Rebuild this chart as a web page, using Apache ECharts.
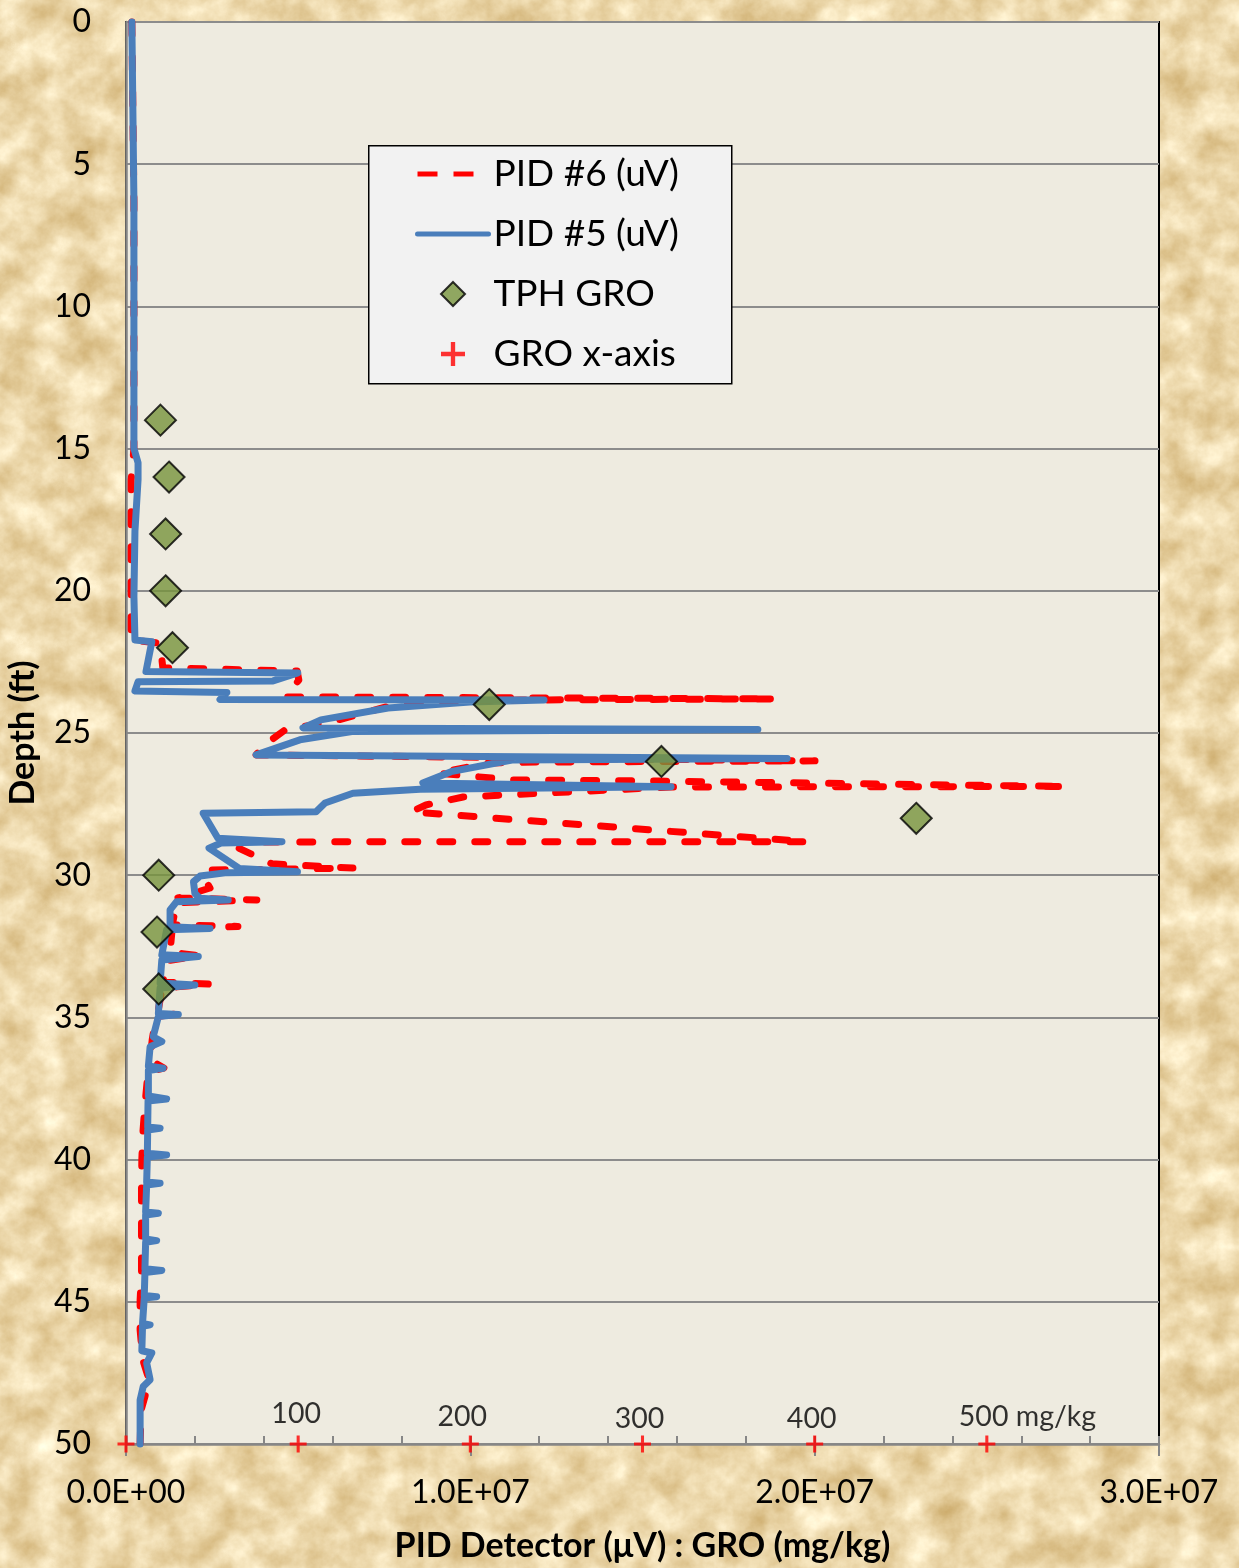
<!DOCTYPE html>
<html>
<head>
<meta charset="utf-8">
<title>PID and GRO profile with depth</title>
<script src="https://cdn.jsdelivr.net/npm/echarts@6/dist/echarts.min.js"></script>
<style>
  html, body { margin: 0; padding: 0; }
  body {
    width: 1239px; height: 1568px; overflow: hidden;
    background-color: #EBD6AA;
    background-image: url("data:image/svg+xml;utf8,<svg xmlns='http://www.w3.org/2000/svg' width='1239' height='1568'><filter id='p' color-interpolation-filters='sRGB'><feTurbulence type='fractalNoise' baseFrequency='0.03' numOctaves='5' seed='11'/><feColorMatrix type='matrix' values='0.25 0 0 0 0.80  0.35 0 0 0 0.67  0.5 0 0 0 0.42  0 0 0 0 1'/></filter><rect width='1239' height='1568' filter='url(%23p)'/></svg>");
  }
  #chart { width: 1239px; height: 1568px; }
</style>
</head>
<body>
<div id="chart"></div>
<script>
// PID #6 detector trace: [signal (uV), depth (ft)], in logging order
const pid6 = [
  [0.17e6, 0], [0.23e6, 6.3], [0.23e6, 15.0], [0.15e6, 16.1], [0.15e6, 21.73], [0.99e6, 21.84],
  [1.07e6, 22.71], [4.97e6, 22.82], [5.02e6, 23.14], [4.76e6, 23.52], [4.62e6, 23.73],
  [18.82e6, 23.8], [11.44e6, 23.84], [7.96e6, 23.95], [6.04e6, 24.58], [4.62e6, 24.89],
  [3.98e6, 25.46], [3.78e6, 25.77], [20.01e6, 25.98], [12.02e6, 26.02], [10.48e6, 26.06],
  [9.06e6, 26.41], [11.21e6, 26.65], [15.48e6, 26.69], [27.3e6, 26.88], [15.83e6, 26.9],
  [9.79e6, 27.25], [8.71e6, 27.53], [8.28e6, 27.77], [19.76e6, 28.82], [2.85e6, 28.83],
  [3.19e6, 29.0], [4.24e6, 29.6], [6.59e6, 29.75], [2.44e6, 29.82], [2.24e6, 30.06],
  [2.44e6, 30.45], [1.51e6, 30.8], [3.80e6, 30.87], [1.48e6, 30.97], [1.34e6, 31.75],
  [3.25e6, 31.8], [1.34e6, 31.89], [1.28e6, 32.7], [2.15e6, 32.84], [1.22e6, 33.0],
  [1.07e6, 33.76], [2.44e6, 33.83], [1.05e6, 33.97], [0.93e6, 34.8], [1.42e6, 34.88],
  [0.87e6, 34.98], [0.76e6, 35.8], [0.70e6, 36.5], [1.10e6, 36.78], [0.64e6, 36.92],
  [0.55e6, 38.08], [0.49e6, 39.06], [0.46e6, 40.0], [0.45e6, 40.96], [0.45e6, 42.02],
  [0.45e6, 43.07], [0.45e6, 43.99], [0.41e6, 44.94], [0.41e6, 45.99], [0.49e6, 47.05],
  [0.70e6, 47.86], [0.58e6, 48.2], [0.44e6, 48.8], [0.41e6, 50]
];

// PID #5 detector trace: [signal (uV), depth (ft)], in logging order
const pid5 = [
  [0.17e6, 0], [0.23e6, 6.3], [0.23e6, 15.0], [0.35e6, 15.5], [0.35e6, 16.1], [0.26e6, 17.9],
  [0.23e6, 20.2], [0.26e6, 21.73], [0.75e6, 21.79], [0.58e6, 22.84], [4.99e6, 22.89],
  [4.27e6, 23.17], [0.35e6, 23.2], [0.26e6, 23.52], [2.93e6, 23.58], [2.73e6, 23.82],
  [12.14e6, 23.84], [9.99e6, 23.91], [7.61e6, 24.12], [5.66e6, 24.54], [5.14e6, 24.82],
  [18.35e6, 24.88], [6.56e6, 24.95], [5.05e6, 25.24], [3.78e6, 25.77], [19.2e6, 25.9],
  [11.21e6, 25.95], [9.44e6, 26.36], [8.62e6, 26.76], [15.83e6, 26.89], [8.54e6, 26.98],
  [6.59e6, 27.12], [5.78e6, 27.46], [5.52e6, 27.77], [2.24e6, 27.82], [2.67e6, 28.7],
  [4.53e6, 28.82], [2.76e6, 28.87], [2.41e6, 29.05], [3.29e6, 29.76], [4.98e6, 29.88],
  [2.93e6, 29.91], [2.15e6, 30.03], [1.96e6, 30.23], [2.00e6, 30.64], [2.15e6, 30.81],
  [2.97e6, 30.87], [1.47e6, 30.93], [1.28e6, 31.22], [1.28e6, 31.81], [2.44e6, 31.87],
  [1.18e6, 31.92], [1.04e6, 32.8], [2.10e6, 32.86], [1.04e6, 32.98], [0.99e6, 33.79],
  [2.00e6, 33.86], [0.99e6, 33.97], [0.94e6, 34.86], [1.52e6, 34.9], [0.94e6, 34.97],
  [0.79e6, 35.68], [1.04e6, 35.85], [0.70e6, 36.03], [0.65e6, 36.71], [1.08e6, 36.79],
  [0.65e6, 36.87], [0.65e6, 37.76], [1.18e6, 37.87], [0.64e6, 37.94], [0.63e6, 38.85],
  [0.99e6, 38.9], [0.63e6, 38.96], [0.62e6, 39.78], [1.18e6, 39.84], [0.62e6, 39.91],
  [0.60e6, 40.79], [0.99e6, 40.83], [0.60e6, 40.89], [0.57e6, 41.84], [0.94e6, 41.89],
  [0.57e6, 41.95], [0.57e6, 42.79], [0.89e6, 42.85], [0.57e6, 42.91], [0.55e6, 43.84],
  [1.04e6, 43.9], [0.55e6, 43.97], [0.53e6, 44.78], [0.89e6, 44.82], [0.53e6, 44.87],
  [0.48e6, 45.76], [0.70e6, 45.81], [0.48e6, 45.86], [0.46e6, 46.72], [0.75e6, 46.8],
  [0.60e6, 47.15], [0.70e6, 47.74], [0.50e6, 47.98], [0.41e6, 48.45], [0.41e6, 50]
];

// Soil samples: TPH gasoline-range organics
const groDepth = [14, 16, 18, 20, 22, 24, 26, 28, 30, 32, 34];
const groMgKg  = [20, 25, 23, 23, 27, 211, 311, 459, 19, 18, 19];

// Secondary GRO scale drawn along the bottom axis
const groTicks = [0, 100, 200, 300, 400, 500];
const groTickLabels = ['', '100', '200', '300', '400', '500 mg/kg'];

// 1 mg/kg of GRO is plotted as 50,000 uV on the shared x axis
const GRO_TO_UV = 5e4;
const AXIS_DEPTH_BOTTOM = 50;

const FONT = 'Lato, "Open Sans", sans-serif';
const AXIS_GREY = '#868686';
const LINE_W = 7;

function sci(v) {
  const parts = v.toExponential(1).split('e');
  const n = parseInt(parts[1], 10);
  return parts[0] + 'E' + (n < 0 ? '-' : '+') + String(Math.abs(n)).padStart(2, '0');
}
function majorLabel(v) {
  const k = v / 1e7;
  return Math.abs(k - Math.round(k)) < 1e-9 ? sci(v) : '';
}

const plusPath = 'path://M4.1,0H5.9V4.1H10V5.9H5.9V10H4.1V5.9H0V4.1H4.1Z';
const diamondPath = 'path://M5,0L10,5L5,10L0,5Z';
const groLabelNudge = [[0, 0], [-2, -3], [-8, 0], [-3, 2], [-3, 2], [-28, 0]];
const plotBox = { left: 126, right: 80, top: 22, bottom: 124, outerBoundsMode: 'none' };

const chart = echarts.init(document.getElementById('chart'), null, { renderer: 'canvas' });

chart.setOption({
  animation: false,
  textStyle: { fontFamily: FONT },
  grid: [
    Object.assign({ show: true, backgroundColor: '#EEEBE0', borderColor: '#000', borderWidth: 2 }, plotBox),
    Object.assign({ show: false }, plotBox)
  ],
  graphic: [{
    type: 'rect', left: 368, top: 145, z: 3,
    shape: { width: 363, height: 238 },
    style: { fill: '#F2F2F2', stroke: '#000', lineWidth: 1.5 }
  }],
  legend: {
    orient: 'vertical',
    left: 415, top: 154,
    padding: 0,
    itemGap: 20,
    itemWidth: 71,
    itemHeight: 24,
    selectedMode: false,
    z: 5,
    lineStyle: { width: 5 },
    textStyle: { fontSize: 37, color: '#000', fontFamily: FONT, lineHeight: 40 },
    data: [
      { name: 'PID #6 (uV)', itemStyle: { opacity: 0 }, lineStyle: { width: 5, type: [20, 16], cap: 'butt' } },
      { name: 'PID #5 (uV)', itemStyle: { opacity: 0 } },
      { name: 'TPH GRO', icon: diamondPath },
      { name: 'GRO x-axis' }
    ]
  },
  xAxis: [{
    gridIndex: 0,
    type: 'value', min: 0, max: 3e7, interval: 2e6, position: 'bottom',
    axisLine: { show: true, onZero: false, lineStyle: { color: AXIS_GREY, width: 2.5 } },
    axisTick: { show: true, inside: true, length: 8, lineStyle: { color: AXIS_GREY, width: 2 } },
    axisLabel: { formatter: majorLabel, fontSize: 32, color: '#000', margin: 33, fontFamily: FONT },
    splitLine: { show: false },
    name: 'PID Detector (\u03BCV) : GRO (mg/kg)',
    nameLocation: 'middle', nameGap: 85,
    nameTextStyle: { fontSize: 34, fontWeight: 'bold', color: '#000', fontFamily: FONT }
  }, {
    gridIndex: 1,
    type: 'value', min: 0, max: 3e7, interval: 1e7, position: 'bottom',
    axisLine: { show: false, onZero: false },
    axisTick: { show: true, inside: false, length: 12, lineStyle: { color: AXIS_GREY, width: 2 } },
    axisLabel: { show: false },
    splitLine: { show: false }
  }],
  yAxis: [{
    gridIndex: 0,
    type: 'value', inverse: true, min: 0, max: 50, interval: 5,
    axisLine: { show: true, onZero: false, lineStyle: { color: AXIS_GREY, width: 2.5 } },
    axisTick: { show: false },
    axisLabel: { fontSize: 32, color: '#000', margin: 35, fontFamily: FONT },
    splitLine: { show: true, lineStyle: { color: '#8C8C8C', width: 2 } },
    name: 'Depth (ft)',
    nameLocation: 'middle', nameGap: 86, nameRotate: 90,
    nameTextStyle: { fontSize: 34, fontWeight: 'bold', color: '#000', fontFamily: FONT }
  }, {
    gridIndex: 1,
    type: 'value', inverse: true, min: 0, max: 50, show: false
  }],
  series: [{
    name: 'PID #6 (uV)',
    type: 'line',
    data: pid6,
    symbol: 'none',
    clip: false,
    z: 2,
    itemStyle: { color: '#FF0000' },
    lineStyle: { color: '#FF0000', width: LINE_W, type: [13, 22], cap: 'round', join: 'round' }
  }, {
    name: 'PID #5 (uV)',
    type: 'line',
    data: pid5,
    symbol: 'none',
    clip: false,
    z: 2,
    itemStyle: { color: '#4A7EBB' },
    lineStyle: { color: '#4A7EBB', width: LINE_W, cap: 'round', join: 'round' }
  }, {
    name: 'TPH GRO',
    type: 'scatter',
    data: groDepth.map((d, i) => [groMgKg[i] * GRO_TO_UV, d]),
    symbol: 'diamond',
    symbolSize: 31,
    clip: false,
    z: 3,
    itemStyle: { color: '#77933C', borderColor: '#000', borderWidth: 2 }
  }, {
    name: 'GRO x-axis',
    type: 'scatter',
    data: groTicks.map((t, i) => ({
      value: [t * GRO_TO_UV, AXIS_DEPTH_BOTTOM],
      label: {
        offset: groLabelNudge[i],
        align: i === groTicks.length - 1 ? 'left' : 'center'
      }
    })),
    symbol: plusPath,
    symbolSize: 17,
    clip: false,
    z: 4,
    itemStyle: { color: '#FF0000' },
    label: {
      show: true,
      position: 'top',
      distance: 4,
      fontSize: 28.5,
      color: '#000',
      fontFamily: FONT,
      formatter: p => groTickLabels[p.dataIndex]
    }
  }]
});
</script>
</body>
</html>
